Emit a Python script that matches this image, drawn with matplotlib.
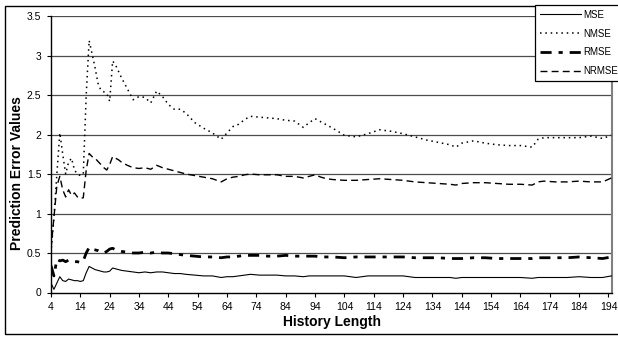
import matplotlib
matplotlib.use("Agg")
import matplotlib.pyplot as plt
from matplotlib.patches import Rectangle

plt.rcParams['font.family'] = ['Liberation Sans', 'DejaVu Sans']

# history length (x) and the four error series
history = [4, 5, 6, 7, 8, 9, 10, 11, 12, 13, 14, 15, 16, 17, 18, 19, 20, 21, 22, 23, 24, 25, 26, 27, 28,
           30, 32, 34, 36, 38, 40, 42, 44, 46, 48, 50, 53, 56, 59, 62, 64, 66, 68, 70, 72, 75, 78, 81, 84,
           87, 90, 92, 94, 96, 98, 100, 104, 108, 112, 116, 120, 124, 128, 132, 136, 140, 142, 144, 148,
           152, 156, 160, 164, 168, 170, 172, 176, 180, 184, 188, 192, 195]

mse = [0.12, 0.04, 0.12, 0.20, 0.15, 0.14, 0.17, 0.16, 0.15, 0.15, 0.14, 0.15, 0.25, 0.33, 0.31, 0.29,
       0.28, 0.27, 0.26, 0.26, 0.27, 0.31, 0.30, 0.29, 0.28,
       0.27, 0.26, 0.25, 0.26, 0.25, 0.26, 0.26, 0.25, 0.24, 0.24, 0.23, 0.22, 0.21, 0.21, 0.19, 0.20,
       0.20, 0.21, 0.22, 0.23, 0.22, 0.22, 0.22, 0.21, 0.21, 0.20, 0.21, 0.21, 0.21, 0.21, 0.21, 0.21,
       0.19, 0.21, 0.21, 0.21, 0.21, 0.19, 0.19, 0.19, 0.19, 0.18, 0.19, 0.19, 0.19, 0.19, 0.19, 0.19,
       0.18, 0.19, 0.19, 0.19, 0.19, 0.20, 0.19, 0.19, 0.21]

nmse = [0.5, 0.95, 1.5, 2.02, 1.75, 1.5, 1.65, 1.7, 1.55, 1.5, 1.48, 1.5, 2.5, 3.19, 3.02, 2.85,
        2.65, 2.56, 2.54, 2.52, 2.42, 2.93, 2.88, 2.8, 2.72,
        2.58, 2.44, 2.48, 2.47, 2.40, 2.55, 2.48, 2.38, 2.32, 2.32, 2.27, 2.15, 2.08, 2.02, 1.94, 2.02,
        2.10, 2.13, 2.19, 2.23, 2.22, 2.21, 2.20, 2.18, 2.17, 2.09, 2.15, 2.20, 2.16, 2.12, 2.08, 1.99,
        1.97, 2.01, 2.06, 2.04, 2.01, 1.97, 1.93, 1.90, 1.87, 1.84, 1.89, 1.92, 1.89, 1.87, 1.86, 1.86,
        1.84, 1.94, 1.96, 1.96, 1.96, 1.96, 1.98, 1.95, 1.99]

rmse = [0.34, 0.21, 0.42, 0.40, 0.41, 0.39, 0.41, 0.40, 0.39, 0.39, 0.38, 0.40, 0.50, 0.57, 0.55, 0.54,
        0.53, 0.51, 0.50, 0.52, 0.55, 0.56, 0.54, 0.53, 0.52,
        0.51, 0.50, 0.50, 0.51, 0.50, 0.51, 0.50, 0.50, 0.49, 0.48, 0.47, 0.46, 0.45, 0.45, 0.44, 0.45,
        0.45, 0.46, 0.47, 0.47, 0.47, 0.46, 0.46, 0.47, 0.46, 0.46, 0.46, 0.46, 0.45, 0.45, 0.45, 0.44,
        0.45, 0.45, 0.45, 0.45, 0.45, 0.44, 0.44, 0.44, 0.43, 0.43, 0.43, 0.44, 0.44, 0.43, 0.43, 0.43,
        0.43, 0.44, 0.44, 0.44, 0.44, 0.45, 0.44, 0.43, 0.45]

nrmse = [0.55, 0.95, 1.35, 1.47, 1.30, 1.21, 1.30, 1.23, 1.26, 1.21, 1.19, 1.20, 1.55, 1.76, 1.72, 1.70,
         1.66, 1.62, 1.58, 1.55, 1.62, 1.72, 1.70, 1.68, 1.65,
         1.61, 1.58, 1.57, 1.58, 1.56, 1.61, 1.58, 1.56, 1.54, 1.52, 1.50, 1.48, 1.46, 1.44, 1.40, 1.44,
         1.46, 1.47, 1.49, 1.50, 1.49, 1.49, 1.49, 1.47, 1.47, 1.45, 1.47, 1.49, 1.46, 1.44, 1.43, 1.42,
         1.42, 1.43, 1.44, 1.43, 1.42, 1.40, 1.39, 1.38, 1.37, 1.36, 1.38, 1.39, 1.39, 1.38, 1.37, 1.37,
         1.36, 1.40, 1.41, 1.40, 1.40, 1.41, 1.40, 1.40, 1.45]

xticks = list(range(4, 195, 10))
yticks = [0, 0.5, 1, 1.5, 2, 2.5, 3, 3.5]
ytick_labels = ['0', '0.5', '1', '1.5', '2', '2.5', '3', '3.5']

fig = plt.figure(figsize=(6.18, 3.37), dpi=100)
ax = fig.add_axes([51 / 618, 1 - 292.5 / 337, (612.3 - 51) / 618, (292.5 - 16) / 337])

# horizontal gridlines
for y in yticks[1:]:
    ax.axhline(y, color='#4d4d4d', lw=0.9, zorder=1)

ax.plot(history, mse, color='black', lw=0.8, label='MSE', zorder=3)
ax.plot(history, nmse, color='black', lw=1.1, dashes=(1, 2.5), label='NMSE', zorder=3)
ax.plot(history, rmse, color='black', lw=2.0, dashes=(4, 2.5, 1.5, 2.5), label='RMSE', zorder=3)
ax.plot(history, nrmse, color='black', lw=1.0, dashes=(5, 3), label='NRMSE', zorder=3)

ax.set_xlim(4, 195.3)
ax.set_ylim(0, 3.5)
ax.set_xticks(xticks)
ax.set_xticklabels([str(t) for t in xticks], fontsize=7.5)
ax.set_yticks(yticks)
ax.set_yticklabels(ytick_labels, fontsize=7.5)
ax.tick_params(axis='both', direction='out', length=3, width=0.8, pad=4)

ax.spines['top'].set_visible(False)
ax.spines['right'].set_color('#808080')
ax.spines['right'].set_linewidth(1.5)
ax.spines['left'].set_linewidth(1.0)
ax.spines['bottom'].set_linewidth(1.0)

ax.set_xlabel('History Length', fontsize=10, fontweight='bold', labelpad=2)
ax.set_ylabel('Prediction Error Values', fontsize=10, fontweight='bold')
ax.yaxis.set_label_coords(-0.048, 0.432)

leg = fig.legend(loc='upper left', bbox_to_anchor=(535 / 618, 1 - 5 / 337), fontsize=7,
                 frameon=True, fancybox=False, framealpha=1, edgecolor='black',
                 handlelength=4.2, handletextpad=0.3, labelspacing=0.9, borderpad=0.5,
                 borderaxespad=0)
leg.get_frame().set_linewidth(0.9)

# outer chart border
fig.patches.append(Rectangle((5 / 618, 3 / 337), 1.2, (331 - 3) / 337, transform=fig.transFigure,
                             fill=False, edgecolor='black', lw=1.0, zorder=0))

fig.savefig('out.png', dpi=100)
